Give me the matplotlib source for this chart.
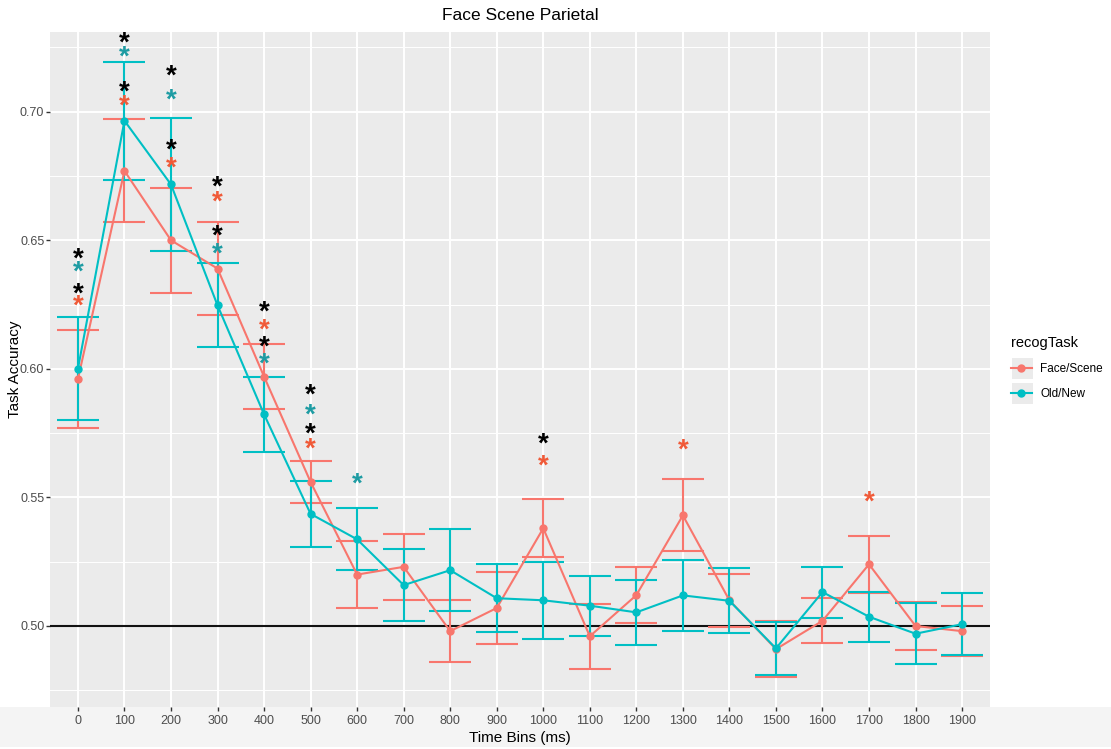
import matplotlib
matplotlib.use("Agg")
import matplotlib.pyplot as plt
from matplotlib.patches import Rectangle
from matplotlib.lines import Line2D
import matplotlib.transforms as mtransforms

plt.rcParams['font.family'] = ['Liberation Sans', 'DejaVu Sans']

time_bins = ['0', '100', '200', '300', '400', '500', '600', '700', '800', '900',
             '1000', '1100', '1200', '1300', '1400', '1500', '1600', '1700', '1800', '1900']

fs_mean = [0.596, 0.677, 0.650, 0.639, 0.597, 0.556, 0.520, 0.523, 0.498, 0.507,
           0.538, 0.496, 0.512, 0.543, 0.510, 0.491, 0.502, 0.524, 0.500, 0.498]
fs_se = [0.019, 0.020, 0.0205, 0.018, 0.0128, 0.0083, 0.013, 0.0129, 0.012, 0.014,
         0.0113, 0.0127, 0.011, 0.014, 0.0103, 0.011, 0.0088, 0.011, 0.0095, 0.0097]

on_mean = [0.600, 0.6965, 0.6717, 0.6247, 0.5823, 0.5436, 0.5337, 0.5159, 0.5217, 0.5108,
           0.510, 0.5079, 0.5053, 0.5119, 0.5098, 0.4913, 0.5132, 0.5036, 0.497, 0.5007]
on_se = [0.020, 0.023, 0.026, 0.0163, 0.0147, 0.0127, 0.012, 0.014, 0.016, 0.0133,
         0.015, 0.0116, 0.0125, 0.0137, 0.0126, 0.0102, 0.0099, 0.0098, 0.0118, 0.012]

series_names = ['Face/Scene', 'Old/New']

# significance stars: bin index, y position, colour key
star_bins = [0, 0, 0, 0,
             1, 1, 1, 1,
             2, 2, 2, 2,
             3, 3, 3, 3,
             4, 4, 4, 4,
             5, 5, 5, 5,
             6,
             10, 10,
             13,
             17]
star_y = [0.6445, 0.6394, 0.6309, 0.6262,
          0.7283, 0.7230, 0.7094, 0.7038,
          0.7154, 0.7061, 0.6868, 0.6798,
          0.6724, 0.6666, 0.6531, 0.6463,
          0.6238, 0.6169, 0.6100, 0.6037,
          0.5915, 0.5835, 0.5761, 0.5703,
          0.5570,
          0.5725, 0.5637,
          0.5700,
          0.5498]
star_kind = ['k', 't', 'k', 'r',
             'k', 't', 'k', 'r',
             'k', 't', 'k', 'r',
             'k', 'r', 'k', 't',
             'k', 'r', 'k', 't',
             'k', 't', 'k', 'r',
             't',
             'k', 'r',
             'r',
             'r']

RED = '#F8766D'
CYAN = '#00BFC4'
star_colors = {'k': '#000000', 'r': '#F05A38', 't': '#1E9CA3'}

W, H = 1111, 749
fig = plt.figure(figsize=(W / 100, H / 100), dpi=100)
fig.patch.set_facecolor('white')

# light band at bottom (screenshot artifact)
fig.patches.append(Rectangle((0, 2 / H), 1, 40 / H, transform=fig.transFigure,
                             facecolor='#f4f4f4', edgecolor='none', zorder=-10))

left, right, top, bottom = 50, 990, 32, 707
ax = fig.add_axes([left / W, 1 - bottom / H, (right - left) / W, (bottom - top) / H])
ax.set_facecolor('#EBEBEB')
for s in ax.spines.values():
    s.set_visible(False)

x = list(range(1, len(time_bins) + 1))
ax.set_xlim(0.4, len(time_bins) + 0.6)
ax.set_ylim(0.4685, 0.731)

ax.set_yticks([0.50, 0.55, 0.60, 0.65, 0.70])
ax.set_yticklabels(['0.50', '0.55', '0.60', '0.65', '0.70'])
ax.set_yticks([0.475, 0.525, 0.575, 0.625, 0.675, 0.725], minor=True)
ax.set_xticks(x)
ax.set_xticklabels(time_bins)

ax.grid(which='major', color='white', linewidth=1.4)
ax.grid(which='minor', axis='y', color='white', linewidth=0.7)
ax.set_axisbelow(True)
ax.tick_params(axis='both', which='major', length=2.75, width=1, color='#333333',
               labelcolor='#4D4D4D', labelsize=9)
ax.tick_params(axis='x', pad=3)
ax.tick_params(axis='y', pad=1.3)
ax.tick_params(which='minor', length=0)

ax.axhline(0.5, color='#111111', linewidth=1.5, zorder=2)

for mean, se, col, name in [(fs_mean, fs_se, RED, series_names[0]),
                            (on_mean, on_se, CYAN, series_names[1])]:
    ax.errorbar(x, mean, yerr=se, fmt='none', ecolor=col, elinewidth=1.5,
                capsize=14.8, capthick=1.5, zorder=3)
    ax.plot(x, mean, color=col, linewidth=1.5, marker='o', markersize=5,
            zorder=4, label=name)

for b, yv, k in zip(star_bins, star_y, star_kind):
    tr = mtransforms.offset_copy(ax.transData, fig=fig, x=0, y=-8.5, units='points')
    ax.text(x[b], yv, '*', color=star_colors[k], fontsize=20, ha='center',
            va='baseline', transform=tr, zorder=5, fontweight='bold')

ax.set_title('Face Scene Parietal', fontsize=12.5, color='black', pad=9)
ax.set_xlabel('Time Bins (ms)', fontsize=11, color='black', labelpad=3)
ax.set_ylabel('Task Accuracy', fontsize=11, color='black')
ax.yaxis.set_label_coords((22 - left) / (right - left), 0.5)

# legend
handles = [Line2D([0], [0], color=RED, linewidth=1.5, marker='o', markersize=5),
           Line2D([0], [0], color=CYAN, linewidth=1.5, marker='o', markersize=5)]
for i in range(2):
    y0 = 358 + i * 25
    fig.patches.append(Rectangle((1012 / W, 1 - (y0 + 21) / H), 21 / W, 21 / H,
                                 transform=fig.transFigure, facecolor='#EBEBEB',
                                 edgecolor='none', zorder=-5))
leg = fig.legend(handles, series_names, title='recogTask', loc='upper left',
                 bbox_to_anchor=(1002 / W, 1 - 327 / H), frameon=False,
                 fontsize=8.5, title_fontsize=10.5, handlelength=1.7,
                 handletextpad=0.75, labelspacing=1.1, alignment='left',
                 borderpad=0.3)

fig.savefig('out.png', dpi=100)
